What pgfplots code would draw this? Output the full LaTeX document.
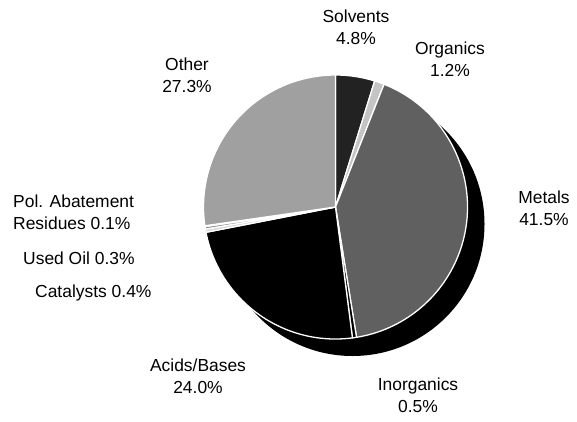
\documentclass[border=0pt]{standalone}
\usepackage{fontspec}
\setmainfont{Liberation Sans}
\usepackage{pgfplots}
\usepackage{pgfplotstable}
\pgfplotsset{compat=1.18}

\definecolor{solv}{HTML}{222222}
\definecolor{orgn}{HTML}{C4C4C4}
\definecolor{metl}{HTML}{606060}
\definecolor{inor}{HTML}{000000}
\definecolor{acid}{HTML}{000000}
\definecolor{cata}{HTML}{DADADA}
\definecolor{usoil}{HTML}{808080}
\definecolor{polab}{HTML}{404040}
\definecolor{othr}{HTML}{A0A0A0}

\tikzset{lbl/.style={font=\fontsize{17.5}{22.5}\selectfont, align=center, inner sep=0pt}}

% shares of waste, clockwise from 12 o'clock
\pgfplotstableread[col sep=comma]{
label,value,color
Solvents,4.8,solv
Organics,1.2,orgn
Metals,41.5,metl
Inorganics,0.5,inor
Acids/Bases,24.0,acid
Catalysts,0.4,cata
Used Oil,0.3,usoil
Pol. Abatement Residues,0.1,polab
Other,27.3,othr
}\piedata

\def\cx{335.5}
\def\cy{207}
\def\rad{132bp}

% build the slices from the table
\pgfplotstablegetrowsof{\piedata}
\pgfmathtruncatemacro\lastrow{\pgfplotsretval-1}
\def\tot{0}
\pgfplotsforeachungrouped \i in {0,...,\lastrow}{%
  \pgfplotstablegetelem{\i}{value}\of\piedata
  \pgfmathsetmacro\tot{\tot+\pgfplotsretval}}
\def\acc{90}
\def\slices{}
\pgfplotsforeachungrouped \i in {0,...,\lastrow}{%
  \pgfplotstablegetelem{\i}{value}\of\piedata
  \pgfmathsetmacro\endang{\acc-360*\pgfplotsretval/\tot}
  \pgfplotstablegetelem{\i}{color}\of\piedata
  \edef\slices{\slices
    \noexpand\fill[fill=\pgfplotsretval, draw=white, line width=1.3pt, line join=round]
      (axis cs:\cx,\cy) -- ++(\acc:\rad)
      arc[start angle=\acc, end angle=\endang, radius=\rad] -- cycle;}
  \let\acc\endang}

\begin{document}
\begin{tikzpicture}
\begin{axis}[
    scale only axis,
    width=577bp, height=422bp,
    xmin=0, xmax=577, ymin=0, ymax=422,
    y dir=reverse,
    hide axis,
    clip=false,
  ]
\path (rel axis cs:0,0) rectangle (rel axis cs:1,1);
% shadow
\fill[black] (axis cs:352.5,224) circle[radius=\rad];
\slices
\node[lbl] at (axis cs:356,27) {Solvents\\4.8\%};
\node[lbl] at (axis cs:450,59) {Organics\\1.2\%};
\node[lbl] at (axis cs:187,75) {Other\\27.3\%};
\node[lbl] at (axis cs:544,208) {Metals\\41.5\%};
\node[lbl, anchor=west, align=left] at (axis cs:13,212) {Pol. Abatement\\Residues 0.1\%};
\node[lbl, anchor=west] at (axis cs:23,258) {Used Oil 0.3\%};
\node[lbl, anchor=west] at (axis cs:35,293) {Catalysts 0.4\%};
\node[lbl] at (axis cs:198,376) {Acids/Bases\\24.0\%};
\node[lbl] at (axis cs:418,395) {Inorganics\\0.5\%};
\end{axis}
\end{tikzpicture}
\end{document}
